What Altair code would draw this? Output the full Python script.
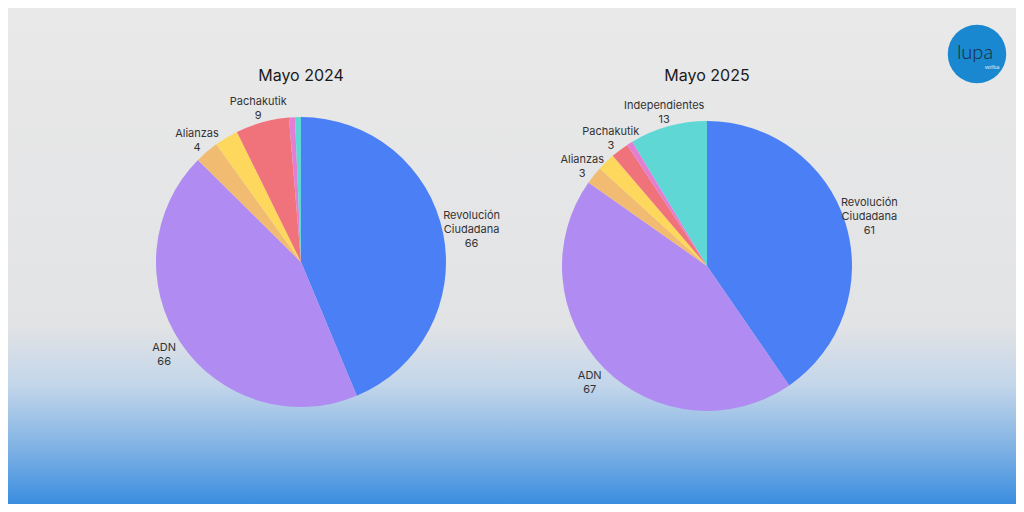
import altair as alt
import pandas as pd

# ---- data ----
parties = ["Revolución Ciudadana", "ADN", "Alianzas", "Otros 1", "Pachakutik", "Otros 2", "Independientes"]
labels_2024 = ["Revolución\nCiudadana\n66", "ADN\n66", "Alianzas\n4", "", "Pachakutik\n9", "", ""]
seats_2024 = [66, 66, 4, 4, 9, 1, 1]
labels_2025 = ["Revolución\nCiudadana\n61", "ADN\n67", "Alianzas\n3", "", "Pachakutik\n3", "", "Independientes\n13"]
seats_2025 = [61, 67, 3, 3, 3, 1, 13]
titles = ["Mayo 2024", "Mayo 2025"]
colors = ["#4a7ff6", "#b08cf2", "#f2bb72", "#fdd85c", "#f0737c", "#e27fd4", "#5fd7d5"]

W, H = 1008, 496
R = 145

df24 = pd.DataFrame({"party": parties, "seats": seats_2024, "label": labels_2024, "idx": range(len(parties))})
df25 = pd.DataFrame({"party": parties, "seats": seats_2025, "label": labels_2025, "idx": range(len(parties))})

color_scale = alt.Scale(domain=parties, range=colors)

bg = alt.Chart(alt.Data(values=[{}])).mark_rect(
    fill=alt.LinearGradient(
        gradient="linear", x1=0, y1=0, x2=0, y2=1,
        stops=[
            alt.GradientStop(offset=0, color="#e9e9e9"),
            alt.GradientStop(offset=0.64, color="#e2e3e5"),
            alt.GradientStop(offset=0.76, color="#c3d6ea"),
            alt.GradientStop(offset=0.88, color="#84b4e4"),
            alt.GradientStop(offset=1, color="#3a8de0"),
        ],
    )
).encode(x=alt.value(0), x2=alt.value(W), y=alt.value(0), y2=alt.value(H))


def pie(df, cx, cy, title, rc_radius):
    arcs = alt.Chart(df).mark_arc(outerRadius=R, stroke=None).encode(
        theta=alt.Theta("seats:Q", stack=True),
        order=alt.Order("idx:Q"),
        color=alt.Color("party:N", scale=color_scale, legend=None),
        x=alt.value(cx),
        y=alt.value(cy),
    )
    texts = alt.Chart(df).transform_window(
        cum="sum(seats)", sort=[alt.SortField("idx", order="ascending")],
        frame=[None, 0],
    ).transform_joinaggregate(
        total="sum(seats)"
    ).transform_calculate(
        ang="(datum.cum - datum.seats / 2) / datum.total * 2 * PI",
        lr=f"datum.idx == 0 ? {rc_radius} : (datum.idx == 1 ? 165 : 160)",
        nl="length(split(datum.label, '\\n'))",
    ).transform_calculate(
        px=f"{cx} + datum.lr * sin(datum.ang)",
        py=f"{cy} - datum.lr * cos(datum.ang) - (datum.nl - 1) * 6",
    ).mark_text(
        lineBreak="\n", fontSize=11, font="Inter", color="#333333",
        align="center", baseline="middle", lineHeight=14,
    ).encode(
        text="label:N",
        x=alt.X("px:Q", scale=None),
        y=alt.Y("py:Q", scale=None),
    )
    ttl = alt.Chart(alt.Data(values=[{"t": title}])).mark_text(
        fontSize=16, font="Inter", color="#1a1a1a", align="center", baseline="middle"
    ).encode(text="t:N", x=alt.value(cx), y=alt.value(68))
    return [arcs, texts, ttl]


logo_circle = alt.Chart(alt.Data(values=[{}])).mark_point(
    shape="circle", filled=True, size=3420, color="#1a88d0", opacity=1
).encode(x=alt.value(969), y=alt.value(46))
logo_text = alt.Chart(alt.Data(values=[{"t": "lupa"}])).mark_text(
    fontSize=20, font="Lato", fontWeight=300, color="#1b2635", align="center", baseline="alphabetic"
).encode(text="t:N", x=alt.value(967), y=alt.value(51))
logo_sub = alt.Chart(alt.Data(values=[{"t": "Verifica"}])).mark_text(
    fontSize=4, font="Inter", color="#ffffff", align="center", baseline="top"
).encode(text="t:N", x=alt.value(984), y=alt.value(58))

layers = [bg] + pie(df24, 293, 254, titles[0], 174) + pie(df25, 699, 258, titles[1], 170) + [logo_circle, logo_text, logo_sub]

chart = alt.layer(*layers).properties(
    width=W, height=H, padding=0,
    autosize=alt.AutoSizeParams(type="none"),
).configure_view(stroke=None)

chart.save("out.html", embed_options={"renderer": "svg", "actions": False})
